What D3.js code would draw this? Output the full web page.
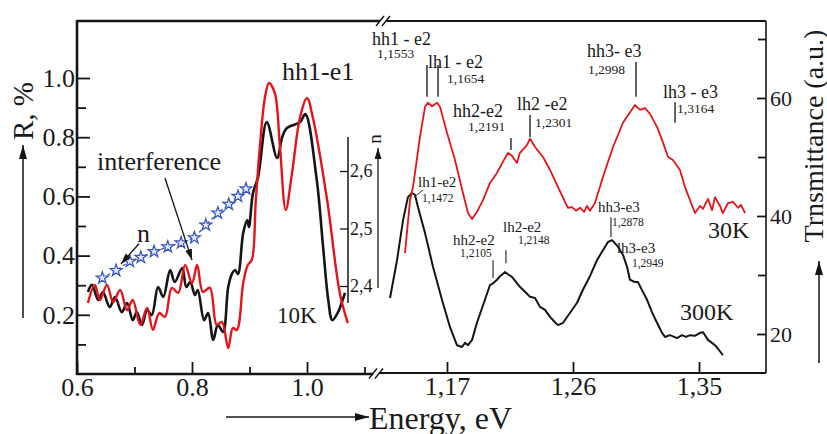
<!DOCTYPE html>
<html>
<head>
<meta charset="utf-8">
<script src="https://cdn.jsdelivr.net/npm/d3@7"></script>
<style>
  body { margin: 0; background: #fff; }
  svg text { font-family: "Liberation Serif", "Times New Roman", serif; fill: #1a1a1a; }
</style>
</head>
<body>
<div id="chart"></div>
<script>
// ---- Left panel: reflectance at 10K (R, %) ----
const energyBlack10K = [0.619,0.626,0.637,0.645,0.657,0.666,0.678,0.687,0.697,0.704,0.713,0.722,0.730,0.741,0.750,0.762,0.770,0.783,0.790,0.797,0.805,0.810,0.821,0.828,0.837,0.845,0.854,0.863,0.870,0.875,0.880,0.889,0.896,0.899,0.906,0.915,0.930,0.948,0.957,0.965,0.988,0.997,1.017,1.028,1.037,1.044,1.054,1.066];
const reflBlack10K   = [0.277,0.301,0.250,0.277,0.226,0.260,0.209,0.240,0.182,0.209,0.166,0.216,0.199,0.294,0.260,0.351,0.311,0.358,0.294,0.311,0.267,0.284,0.182,0.206,0.115,0.166,0.142,0.294,0.341,0.351,0.338,0.476,0.520,0.497,0.611,0.666,0.851,0.730,0.801,0.831,0.851,0.878,0.655,0.429,0.250,0.182,0.209,0.274];

const energyRed10K = [0.619,0.631,0.640,0.652,0.663,0.675,0.687,0.697,0.710,0.722,0.732,0.743,0.753,0.765,0.776,0.788,0.800,0.809,0.819,0.831,0.843,0.852,0.863,0.871,0.878,0.889,0.897,0.904,0.911,0.918,0.927,0.934,0.944,0.953,0.963,0.974,0.988,1.000,1.010,1.035,1.057,1.071];
const reflRed10K   = [0.240,0.301,0.250,0.301,0.243,0.284,0.216,0.250,0.166,0.223,0.149,0.206,0.193,0.291,0.274,0.368,0.307,0.368,0.277,0.291,0.166,0.176,0.088,0.155,0.149,0.307,0.368,0.385,0.588,0.767,0.936,0.983,0.949,0.767,0.554,0.679,0.868,0.932,0.868,0.588,0.274,0.172];

// refractive index n (stars)
const energyN = [0.644,0.668,0.692,0.711,0.734,0.758,0.781,0.804,0.824,0.845,0.864,0.880,0.894];
const indexN  = [2.414,2.427,2.443,2.450,2.460,2.468,2.475,2.484,2.506,2.527,2.542,2.556,2.569];

// ---- Right panel: transmittance (a.u.) ----
const energy30K = [1.1400,1.1436,1.1457,1.1507,1.1543,1.1564,1.1593,1.1629,1.1650,1.1700,1.1757,1.1814,1.1850,1.1879,1.1914,1.1957,1.2007,1.2057,1.2114,1.2136,1.2164,1.2200,1.2221,1.2271,1.2293,1.2329,1.2386,1.2436,1.2493,1.2543,1.2564,1.2593,1.2621,1.2650,1.2679,1.2700,1.2721,1.2757,1.2814,1.2886,1.2957,1.3007,1.3043,1.3079,1.3114,1.3150,1.3200,1.3236,1.3279,1.3314,1.3364,1.3400,1.3436,1.3471,1.3507,1.3529,1.3564,1.3593,1.3614,1.3650,1.3671,1.3707,1.3743,1.3779,1.3800,1.3829];
const trans30K  = [33.7,42.7,44.9,53.4,58.5,59.2,58.6,59.2,58.5,54.1,49.5,43.9,40.5,39.5,40.7,42.7,45.6,47.3,49.8,50.7,50.2,49.0,50.7,52.0,53.1,51.7,50.0,47.8,44.9,42.4,41.4,41.5,40.9,41.4,40.7,41.7,40.9,42.2,46.6,51.7,55.8,57.6,58.8,58.0,58.3,57.3,55.1,52.9,50.0,49.5,47.8,44.9,42.7,40.5,41.7,41.2,42.9,41.0,43.2,41.7,40.5,42.2,42.4,41.4,41.9,40.5];

const energy300K = [1.1293,1.1343,1.1386,1.1421,1.1450,1.1471,1.1493,1.1543,1.1600,1.1664,1.1721,1.1771,1.1807,1.1829,1.1850,1.1879,1.1914,1.1971,1.2007,1.2029,1.2057,1.2079,1.2114,1.2143,1.2164,1.2221,1.2293,1.2329,1.2364,1.2400,1.2436,1.2471,1.2493,1.2529,1.2579,1.2629,1.2671,1.2721,1.2771,1.2814,1.2850,1.2879,1.2921,1.2957,1.2986,1.3007,1.3043,1.3064,1.3100,1.3129,1.3164,1.3200,1.3236,1.3257,1.3293,1.3343,1.3379,1.3407,1.3436,1.3471,1.3507,1.3529,1.3564,1.3593,1.3614,1.3636,1.3671];
const trans300K  = [26.1,32.5,39.3,43.2,43.9,43.6,41.5,37.1,31.4,25.8,21.2,18.1,17.8,18.5,18.1,19.0,21.9,25.8,28.3,28.6,29.2,29.8,30.5,30.0,29.7,28.0,26.3,26.1,24.6,24.1,22.9,22.0,21.5,21.9,23.6,25.3,27.5,29.8,32.5,34.2,35.6,35.9,34.8,33.4,31.4,29.2,28.8,28.8,27.1,25.8,23.7,21.9,20.2,19.5,19.8,19.3,19.8,19.5,19.8,19.7,20.2,20.3,19.0,18.5,18.1,17.5,16.4];

// tick values
const rMajor = [0.2, 0.4, 0.6, 0.8, 1.0];
const rMinor = [0.1, 0.3, 0.5, 0.7, 0.9];
const eLeftMajor = [0.6, 0.8, 1.0];
const eLeftMinor = [0.7, 0.9, 1.1];
const eRightTicks = [1.17, 1.26, 1.35];
const tMajor = [20, 40, 60];
const tMinor = [30, 50, 70];
const nTicks = [2.4, 2.5, 2.6];

// transition labels: [name, energy label, marker energy, marker top T, marker bottom T]
const peaks30K = [
  ["hh1 - e2", "1,1553", 1.1557, 65.6, 60.2],
  ["lh1 - e2", "1,1654", 1.1636, 65.6, 60.2],
  ["hh2-e2",   "1,2191", 1.2157, 53.2, 51.2],
  ["lh2 -e2",  "1,2301", 1.2293, 57.1, 53.4],
  ["hh3- e3",  "1,2998", 1.3050, 66.1, 60.2],
  ["lh3 - e3", "1,3164", 1.3329, 59.3, 55.8]
];
const peaks300K = [
  ["lh1-e2", "1,1472", null, null, null],
  ["hh2-e2", "1,2105", 1.2029, 32.5, 29.5],
  ["lh2-e2", "1,2148", 1.2121, 34.2, 32.0],
  ["hh3-e3", "1,2878", 1.2871, 39.8, 36.4],
  ["lh3-e3", "1,2949", null, null, null]
];

function createChart() {
    const width = 827, height = 434;
    const serif = '"Liberation Serif", "Times New Roman", serif';
    const ink = '#151515';
    const red = '#e3151b';

    const svg = d3.select('#chart').append('svg')
        .attr('width', width)
        .attr('height', height);

    // arrow heads
    const defs = svg.append('defs');
    [['arrBig', 14, 8], ['arrSmall', 11, 7]].forEach(([id, w, h]) => {
        defs.append('marker')
            .attr('id', id)
            .attr('markerUnits', 'userSpaceOnUse')
            .attr('markerWidth', w).attr('markerHeight', h)
            .attr('refX', w).attr('refY', h / 2)
            .attr('orient', 'auto')
            .append('path')
            .attr('d', `M0,0 L${w},${h / 2} L0,${h} Z`)
            .attr('fill', ink);
    });

    // Scales
    const xL = d3.scaleLinear().domain([0.6, 1.1]).range([77, 364.5]);
    const yL = d3.scaleLinear().domain([0, 1.0]).range([374, 78]);
    const yN = d3.scaleLinear().domain([2.4, 2.6]).range([286, 171]);
    const xR = d3.scaleLinear().domain([1.17, 1.35]).range([447, 699]);
    const yR = d3.scaleLinear().domain([20, 60]).range([334, 98]);

    const topY = 21, botL = 374, botR = 373, rightX = 766;

    // Frame lines
    const frame = svg.append('g').attr('stroke', ink).attr('fill', 'none');
    frame.append('line').attr('x1', xL(0.6)).attr('x2', xL(0.6)).attr('y1', topY - 1).attr('y2', botL + 1).attr('stroke-width', 2.6);
    frame.append('line').attr('x1', xL(0.6)).attr('x2', 380).attr('y1', topY).attr('y2', topY).attr('stroke-width', 2.4);
    frame.append('line').attr('x1', 386).attr('x2', rightX).attr('y1', topY).attr('y2', topY).attr('stroke-width', 1.8);
    frame.append('line').attr('x1', rightX).attr('x2', rightX).attr('y1', topY).attr('y2', botR).attr('stroke-width', 1.6);
    frame.append('line').attr('x1', xL(0.6)).attr('x2', 373).attr('y1', botL).attr('y2', botL).attr('stroke-width', 2.4);
    frame.append('line').attr('x1', 379).attr('x2', rightX).attr('y1', botR).attr('y2', botR).attr('stroke-width', 1.8);
    // axis breaks "//"
    [[383, topY], [376, (botL + botR) / 2]].forEach(([bx, by]) => {
        [-3, 3].forEach(o => {
            frame.append('line')
                .attr('x1', bx + o - 4).attr('y1', by + 5)
                .attr('x2', bx + o + 4).attr('y2', by - 5)
                .attr('stroke-width', 1.4);
        });
    });

    function styleAxis(g, size) {
        g.select('.domain').remove();
        g.selectAll('line').attr('stroke', ink).attr('stroke-width', 1.8);
        g.selectAll('text').attr('font-family', serif).attr('font-size', size).attr('fill', '#222');
    }
    const comma = f => d => d3.format(f)(d).replace('.', ',');

    // Left y axis (R, %)
    svg.append('g').attr('transform', `translate(${xL(0.6)},0)`)
        .call(d3.axisLeft(yL).tickValues(rMajor).tickFormat(d3.format('.1f')).tickSizeInner(-13).tickSizeOuter(0).tickPadding(2))
        .call(g => styleAxis(g, 26));
    svg.append('g').attr('transform', `translate(${xL(0.6)},0)`)
        .call(d3.axisLeft(yL).tickValues(rMinor).tickFormat('').tickSizeInner(-9).tickSizeOuter(0))
        .call(g => styleAxis(g, 26));

    // Left x axis
    svg.append('g').attr('transform', `translate(0,${botL})`)
        .call(d3.axisBottom(xL).tickValues(eLeftMajor).tickFormat(d3.format('.1f')).tickSizeInner(-12).tickSizeOuter(0).tickPadding(4))
        .call(g => styleAxis(g, 26));
    svg.append('g').attr('transform', `translate(0,${botL})`)
        .call(d3.axisBottom(xL).tickValues(eLeftMinor).tickFormat('').tickSizeInner(-7).tickSizeOuter(0))
        .call(g => styleAxis(g, 26));

    // Right x axis
    svg.append('g').attr('transform', `translate(0,${botR})`)
        .call(d3.axisBottom(xR).tickValues(eRightTicks).tickFormat(comma('.2f')).tickSizeInner(-11).tickSizeOuter(0).tickPadding(4))
        .call(g => styleAxis(g, 26));

    // Right y axis (transmittance)
    svg.append('g').attr('transform', `translate(${rightX},0)`)
        .call(d3.axisRight(yR).tickValues(tMajor).tickSizeInner(-9).tickSizeOuter(0).tickPadding(4))
        .call(g => styleAxis(g, 22));
    svg.append('g').attr('transform', `translate(${rightX},0)`)
        .call(d3.axisRight(yR).tickValues(tMinor).tickFormat('').tickSizeInner(-8).tickSizeOuter(0))
        .call(g => styleAxis(g, 22));

    // n axis
    svg.append('line').attr('x1', 348).attr('x2', 348).attr('y1', 137).attr('y2', 303)
        .attr('stroke', ink).attr('stroke-width', 1.5);
    svg.append('g').attr('transform', 'translate(348,0)')
        .call(d3.axisRight(yN).tickValues(nTicks).tickFormat(comma('.1f')).tickSizeInner(-8).tickSizeOuter(0).tickPadding(2))
        .call(g => styleAxis(g, 18))
        .call(g => g.selectAll('line').attr('stroke-width', 1.3));
    svg.append('line').attr('x1', 378).attr('x2', 378).attr('y1', 288).attr('y2', 148)
        .attr('stroke', ink).attr('stroke-width', 1.3).attr('marker-end', 'url(#arrSmall)');
    svg.append('text').attr('transform', 'translate(381,139) rotate(-90)')
        .attr('text-anchor', 'middle').attr('font-size', 19).text('n');

    // Curves left (smooth oscillations)
    const lineL = d3.line().x(d => xL(d[0])).y(d => yL(d[1])).curve(d3.curveCatmullRom.alpha(0.5));
    svg.append('path').datum(d3.zip(energyBlack10K, reflBlack10K))
        .attr('fill', 'none').attr('stroke', ink).attr('stroke-width', 2.6).attr('d', lineL);
    svg.append('path').datum(d3.zip(energyRed10K, reflRed10K))
        .attr('fill', 'none').attr('stroke', red).attr('stroke-width', 2.4).attr('d', lineL);

    // n stars
    const starData = d3.zip(energyN, indexN);
    const lineN = d3.line().x(d => xL(d[0])).y(d => yN(d[1]));
    svg.append('path').datum(starData)
        .attr('fill', 'none').attr('stroke', '#3550c0').attr('stroke-width', 1.2)
        .attr('stroke-dasharray', '3,3').attr('d', lineN);
    svg.selectAll('.star').data(starData).enter().append('path')
        .attr('class', 'star')
        .attr('transform', d => `translate(${xL(d[0])},${yN(d[1])})`)
        .attr('d', d3.symbol(d3.symbolStar).size(45))
        .attr('fill', '#e4e9ff').attr('stroke', '#3550c0').attr('stroke-width', 1.2);

    // Curves right
    const lineR = d3.line().x(d => xR(d[0])).y(d => yR(d[1]));
    svg.append('path').datum(d3.zip(energy300K, trans300K))
        .attr('fill', 'none').attr('stroke', ink).attr('stroke-width', 2).attr('stroke-linejoin', 'round').attr('d', lineR);
    svg.append('path').datum(d3.zip(energy30K, trans30K))
        .attr('fill', 'none').attr('stroke', red).attr('stroke-width', 1.8).attr('stroke-linejoin', 'round').attr('d', lineR);

    // Left annotations
    const txt = (x, y, s, size, color) => svg.append('text').attr('x', x).attr('y', y)
        .attr('font-size', size).attr('fill', color || '#1a1a1a').text(s);
    txt(xL(0.9565), yL(0.993), 'hh1-e1', 26);
    txt(xL(0.6348), yL(0.689), 'interference', 26);
    svg.append('line').attr('x1', xL(0.753)).attr('y1', yL(0.662)).attr('x2', xL(0.800)).attr('y2', yL(0.385))
        .attr('stroke', ink).attr('stroke-width', 1.3).attr('marker-end', 'url(#arrSmall)');
    txt(xL(0.7043), yL(0.447), 'n', 26);
    svg.append('line').attr('x1', xL(0.7078)).attr('y1', yL(0.440)).attr('x2', xL(0.6765)).attr('y2', yL(0.372))
        .attr('stroke', ink).attr('stroke-width', 1.3).attr('marker-end', 'url(#arrSmall)');
    txt(xL(0.9478), yL(0.172), '10K', 23);

    // Right annotations (30K, upper)
    const labelPos30K = [[1.1164, 68.98, 1.1200, 66.78], [1.1564, 65.08, 1.1700, 62.54], [1.1743, 56.78, 1.1850, 54.40],
                         [1.2200, 57.97, 1.2329, 55.08], [1.2700, 66.95, 1.2707, 64.07], [1.3243, 60.0, 1.3343, 57.46]];
    peaks30K.forEach((p, i) => {
        const pos = labelPos30K[i];
        txt(xR(pos[0]), yR(pos[1]), p[0], 18, '#222');
        txt(xR(pos[2]), yR(pos[3]), p[1], 13.5, '#333');
        svg.append('line').attr('x1', xR(p[2])).attr('x2', xR(p[2])).attr('y1', yR(p[3])).attr('y2', yR(p[4]))
            .attr('stroke', '#222').attr('stroke-width', 1.4);
    });

    // Right annotations (300K, lower)
    const labelPos300K = [[1.1493, 44.92, 1.1521, 42.37], [1.1743, 35.08, 1.1793, 33.05], [1.2100, 37.29, 1.2207, 35.25],
                          [1.2779, 40.68, 1.2879, 38.31], [1.2914, 33.73, 1.3021, 31.36]];
    peaks300K.forEach((p, i) => {
        const pos = labelPos300K[i];
        txt(xR(pos[0]), yR(pos[1]), p[0], 15, '#333');
        txt(xR(pos[2]), yR(pos[3]), p[1], 11.5, '#444');
        if (p[2] !== null) {
            svg.append('line').attr('x1', xR(p[2])).attr('x2', xR(p[2])).attr('y1', yR(p[3])).attr('y2', yR(p[4]))
                .attr('stroke', '#333').attr('stroke-width', 1.2);
        }
    });
    // leader for lh1-e2 at 300K
    svg.append('line').attr('x1', xR(1.1464)).attr('y1', yR(43.2)).attr('x2', xR(1.1529)).attr('y2', yR(44.4))
        .attr('stroke', '#333').attr('stroke-width', 1);

    txt(xR(1.3564), yR(36.27), '30K', 24);
    txt(xR(1.3364), yR(22.37), '300K', 24);

    // Axis titles and arrows
    svg.append('text').attr('transform', 'translate(33,111) rotate(-90)')
        .attr('text-anchor', 'middle').attr('font-size', 29).text('R, %');
    svg.append('line').attr('x1', 23).attr('x2', 23).attr('y1', 318).attr('y2', 145)
        .attr('stroke', ink).attr('stroke-width', 1.5).attr('marker-end', 'url(#arrBig)');

    svg.append('text').attr('transform', 'translate(823,136) rotate(-90)')
        .attr('text-anchor', 'middle').attr('font-size', 28).text('Trnsmittance (a.u.)');
    svg.append('line').attr('x1', 819).attr('x2', 819).attr('y1', 363).attr('y2', 261)
        .attr('stroke', ink).attr('stroke-width', 1.5).attr('marker-end', 'url(#arrBig)');

    svg.append('text').attr('x', 369).attr('y', 429).attr('font-size', 32).text('Energy, eV');
    svg.append('line').attr('x1', 226).attr('x2', 369).attr('y1', 417).attr('y2', 417)
        .attr('stroke', ink).attr('stroke-width', 1.5).attr('marker-end', 'url(#arrBig)');
}

document.addEventListener('DOMContentLoaded', createChart);
</script>
</body>
</html>
